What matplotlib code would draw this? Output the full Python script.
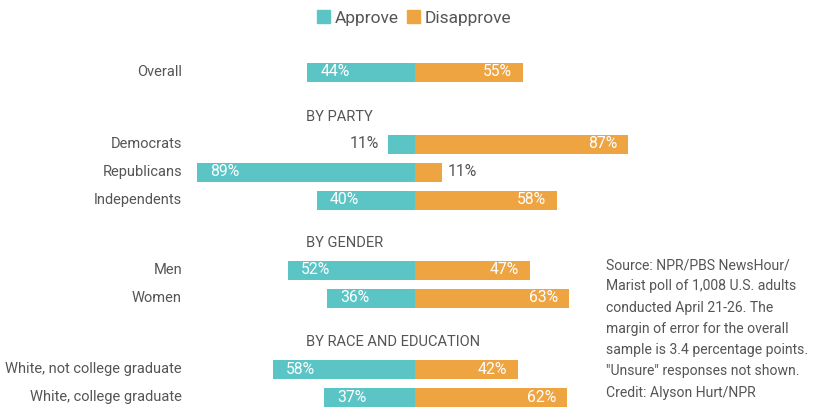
import matplotlib
matplotlib.use("Agg")
import matplotlib.pyplot as plt
from matplotlib.patches import Patch

plt.rcParams["font.family"] = ["Roboto", "DejaVu Sans"]

# data
groups = ["", "BY PARTY", "BY GENDER", "BY RACE AND EDUCATION"]
categories = [
    ["Overall"],
    ["Democrats", "Republicans", "Independents"],
    ["Men", "Women"],
    ["White, not college graduate", "White, college graduate"],
]
approve = [[44], [11, 89, 40], [52, 36], [58, 37]]
disapprove = [[44], [87, 11, 58], [47, 63], [42, 62]]
disapprove_labels = [["55%"], ["87%", "11%", "58%"], ["47%", "63%"], ["42%", "62%"]]

source_lines = [
    "Source: NPR/PBS NewsHour/",
    "Marist poll of 1,008 U.S. adults",
    "conducted April 21-26. The",
    "margin of error for the overall",
    "sample is 3.4 percentage points.",
    "\"Unsure\" responses not shown.",
    "Credit: Alyson Hurt/NPR",
]

TEAL = "#5bc5c6"
ORANGE = "#eea441"
GREY = "#555555"

W, H = 815, 407
CENTER = 415.0
SCALE = 2.45  # px per percent


def px2x(px):
    return (px - CENTER) / SCALE


fig = plt.figure(figsize=(W / 100, H / 100), dpi=100)
ax = fig.add_axes([0, 0, 1, 1])
ax.set_xlim(px2x(0), px2x(W))
ax.set_ylim(H, 0)
ax.axis("off")

bar_h = 19
head_gap = [0, 45, 43, 44]
y = 72
for gi, (grp, cats) in enumerate(zip(groups, categories)):
    if grp:
        y_head = y + head_gap[gi]
        ax.text(px2x(306), y_head, grp, ha="left", va="center", fontsize=10.5, color=GREY)
        y = y_head + 27
    for ci, cat in enumerate(cats):
        a = approve[gi][ci]
        d = disapprove[gi][ci]
        ax.barh(y, -a, height=bar_h, left=0, color=TEAL)
        ax.barh(y, d, height=bar_h, left=0, color=ORANGE)
        ax.text(px2x(182), y, cat, ha="right", va="center", fontsize=10.5, color=GREY)
        # approve label
        if a > 20:
            ax.text(-a + 13 / SCALE, y, f"{a}%", ha="left", va="center",
                    fontsize=11.3, color="white")
        else:
            ax.text(-a - 9 / SCALE, y, f"{a}%", ha="right", va="center",
                    fontsize=11.3, color=GREY)
        # disapprove label
        if d > 20:
            ax.text(d - 11 / SCALE, y, disapprove_labels[gi][ci], ha="right", va="center",
                    fontsize=11.3, color="white")
        else:
            ax.text(d + 6 / SCALE, y, disapprove_labels[gi][ci], ha="left", va="center",
                    fontsize=11.3, color=GREY)
        y += 28
    y -= 28

for i, line in enumerate(source_lines):
    ax.text(px2x(606), 265 + i * 21.3, line, ha="left", va="center",
            fontsize=10.1, color=GREY)

handles = [Patch(color=TEAL, label="Approve"), Patch(color=ORANGE, label="Disapprove")]
fig.legend(handles=handles, loc="center", bbox_to_anchor=(414 / W, 1 - 18 / H), ncol=2,
           frameon=False, fontsize=12.5, handlelength=0.75, handleheight=0.75,
           handletextpad=0.25, columnspacing=0.5, labelcolor=GREY)

fig.savefig("out.png", dpi=100)
